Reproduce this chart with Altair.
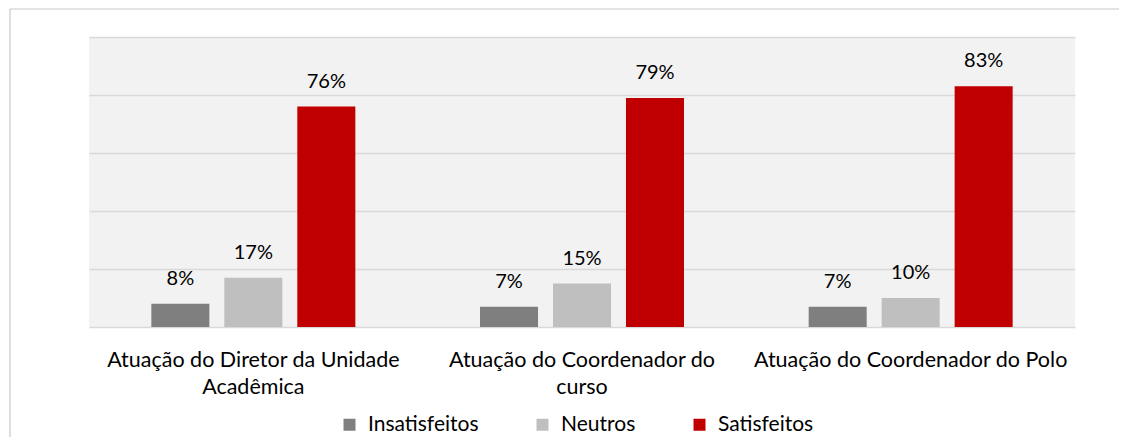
import altair as alt
import pandas as pd

categories = [
    "Atuação do Diretor da Unidade Acadêmica",
    "Atuação do Coordenador do curso",
    "Atuação do Coordenador do Polo",
]
label_lines = [
    ["Atuação do Diretor da Unidade", "Acadêmica"],
    ["Atuação do Coordenador do", "curso"],
    ["Atuação do Coordenador do Polo"],
]
series = ["Insatisfeitos", "Neutros", "Satisfeitos"]
insatisfeitos = [0.08, 0.07, 0.07]
neutros = [0.17, 0.15, 0.10]
satisfeitos = [0.76, 0.79, 0.83]
colors = ["#7f7f7f", "#bfbfbf", "#c00000"]

rows = []
for i, c in enumerate(categories):
    for s, vals in zip(series, [insatisfeitos, neutros, satisfeitos]):
        rows.append({"categoria": c, "serie": s, "valor": vals[i]})
df = pd.DataFrame(rows)

# multi-line axis labels
expr = "datum.label"
for c, lines in reversed(list(zip(categories, label_lines))):
    arr = "[" + ",".join("'" + l + "'" for l in lines) + "]"
    expr = f"datum.value == '{c}' ? {arr} : ({expr})"

FONT = "Lato"

x_enc = alt.X(
    "categoria:N",
    sort=categories,
    scale=alt.Scale(paddingInner=0, paddingOuter=0),
    axis=alt.Axis(
        title=None, labelAngle=0, ticks=False, domain=False,
        labelExpr=expr, labelFont=FONT, labelFontSize=21.5,
        labelColor="#000000", labelPadding=22, labelLineHeight=27,
        labelLimit=400,
    ),
)
xo_enc = alt.XOffset(
    "serie:N", sort=series,
    scale=alt.Scale(paddingInner=0.205, paddingOuter=0.854),
)
y_enc = alt.Y(
    "valor:Q",
    scale=alt.Scale(domain=[0, 1]),
    axis=alt.Axis(
        title=None, labels=False, ticks=False, domain=False,
        values=[0, 0.2, 0.4, 0.6, 0.8, 1.0],
        gridColor="#d9d9d9", gridWidth=1.5,
    ),
)

bars = alt.Chart(df).mark_bar().encode(
    x=x_enc,
    xOffset=xo_enc,
    y=y_enc,
    color=alt.Color(
        "serie:N", sort=series,
        scale=alt.Scale(domain=series, range=colors),
        legend=alt.Legend(
            title=None, orient="none", direction="horizontal",
            legendX=250, legendY=377, symbolType="square", symbolSize=144,
            symbolStrokeWidth=0, labelFont=FONT, labelFontSize=21,
            labelColor="#000000", labelOffset=8, columnPadding=53,
            padding=0,
        ),
    ),
)

labels = alt.Chart(df).mark_text(
    baseline="alphabetic", dy=-19, font=FONT, fontSize=20, color="#000000"
).encode(
    x=x_enc,
    xOffset=xo_enc,
    y=y_enc,
    text=alt.Text("valor:Q", format=".0%"),
)

frame_data = alt.Data(values=[{"k": 1}])
frame_left = alt.Chart(frame_data).mark_rule(color="#c8c8c8", strokeWidth=1.2).encode(
    x=alt.value(-79), y=alt.value(-28), y2=alt.value(420)
)
frame_top = alt.Chart(frame_data).mark_rule(color="#c8c8c8", strokeWidth=1.2).encode(
    x=alt.value(-79), x2=alt.value(1030), y=alt.value(-28)
)

chart = alt.layer(frame_left, frame_top, bars, labels).properties(
    width=986,
    height=290,
    autosize="none",
    background="#ffffff",
    padding={"left": 81, "top": 29, "right": 44, "bottom": 110},
).configure_view(
    fill="#f2f2f2", stroke=None
)

chart.save("out.html", embed_options={"renderer": "svg", "actions": False})
